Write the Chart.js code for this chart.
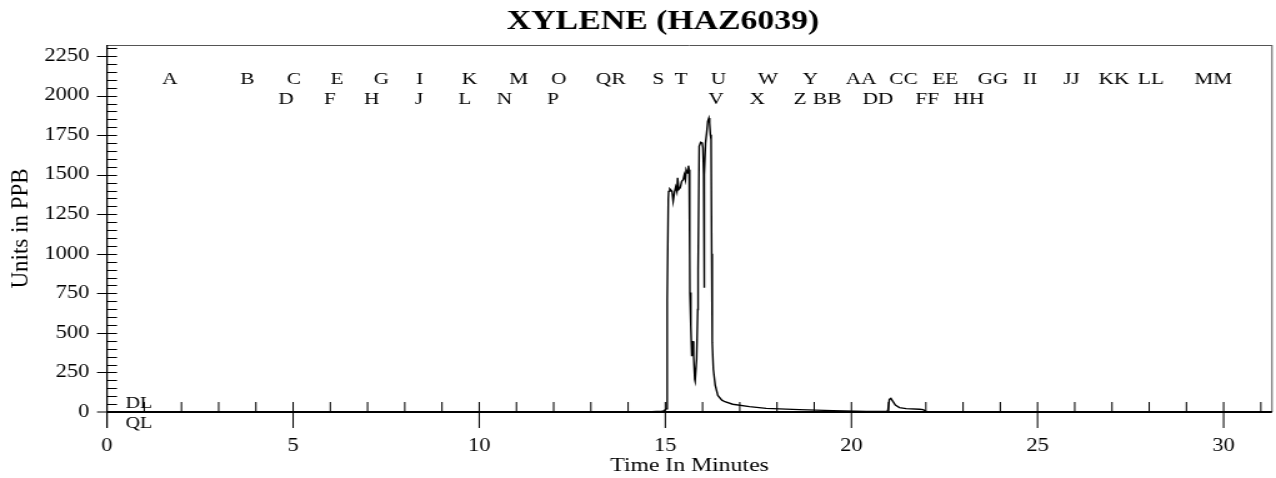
<!DOCTYPE html>
<html>
<head>
<meta charset="utf-8">
<script src="https://cdn.jsdelivr.net/npm/chart.js@4"></script>
<style>
  html, body { margin: 0; padding: 0; background: #fff; }
  #chart { display: block; width: 1276px; height: 478px; }
</style>
</head>
<body>
<!-- canvas drawn narrower and stretched, like the wide-looking original -->
<canvas id="chart" width="1021" height="478" style="width:1276px;height:478px"></canvas>
<script>
// Trace: time (minutes) and response (ppb)
const times = [0, 14.5, 14.9, 14.95, 15.03, 15.05, 15.08, 15.09, 15.12, 15.18, 15.21, 15.25, 15.28, 15.31, 15.33,
  15.36, 15.40, 15.44, 15.48, 15.51, 15.54, 15.56, 15.60, 15.62, 15.64, 15.655, 15.66, 15.685, 15.71, 15.74, 15.76,
  15.79, 15.80, 15.84, 15.87, 15.88, 15.91, 15.95, 15.99, 16.01, 16.03, 16.04, 16.055, 16.08, 16.11, 16.14, 16.17,
  16.19, 16.21, 16.23, 16.245, 16.26, 16.29, 16.34, 16.41, 16.52, 16.6, 16.81, 17.26, 17.71, 18.6, 19.5, 20.4,
  20.95, 20.98, 21.02, 21.06, 21.11, 21.18, 21.29, 21.47, 21.83, 21.93, 21.99, 22.05, 31.3];
const ppb = [0, 0, 5, 6, 20, 700, 1350, 1395, 1410, 1395, 1332, 1395, 1423, 1395, 1480,
  1406, 1417, 1458, 1469, 1500, 1469, 1532, 1511, 1557, 1532, 1000, 755, 543, 353, 448, 353,
  206, 196, 333, 648, 900, 1679, 1705, 1701, 1669, 1500, 785, 1500, 1701, 1764, 1837, 1858,
  1827, 1753, 1722, 1000, 440, 270, 170, 105, 75, 65, 49, 34, 23, 15, 9, 4,
  3, 10, 80, 86, 69, 44, 28, 21, 17, 15, 6, 0, 0];

// Event markers along the top
const eventLabels = ['A','B','C','D','E','F','G','H','I','J','K','L','M','N','O','P','Q','R','S','T','U','V','W','X','Y','Z',
  'AA','BB','CC','DD','EE','FF','GG','HH','II','JJ','KK','LL','MM'];
const eventTimes = [1.69, 3.77, 5.02, 4.81, 6.18, 5.99, 7.37, 7.11, 8.40, 8.38, 9.74, 9.61, 11.06, 10.68, 12.14, 11.98,
  13.34, 13.74, 14.81, 15.42, 16.43, 16.36, 17.76, 17.47, 18.90, 18.62,
  20.26, 19.35, 21.40, 20.71, 22.52, 22.04, 23.80, 23.16, 24.80, 25.91, 27.05, 28.05, 29.72];
const eventRows = [0,0,0,1,0,1,0,1,0,1,0,1,0,1,0,1,0,0,0,0,0,1,0,1,0,1,0,1,0,1,0,1,0,1,0,0,0,0,0];

const xTicks = [0, 5, 10, 15, 20, 25, 30];
const yTicks = [0, 250, 500, 750, 1000, 1250, 1500, 1750, 2000, 2250];

const serif = '"Liberation Serif", "Times New Roman", serif';
const XSCALE = 1276 / 1021; // css stretch of the canvas

const chromPlugin = {
  id: 'chromDecor',
  afterDraw(chart) {
    const { ctx, chartArea: area, scales: { x, y } } = chart;
    const y0 = y.getPixelForValue(0);
    const vx = 1 / XSCALE; // one screen pixel horizontally, in canvas units
    ctx.save();
    ctx.lineCap = 'butt';

    // frame: thin top and right
    ctx.lineWidth = 1;
    ctx.strokeStyle = '#555';
    ctx.beginPath();
    ctx.moveTo(area.left, area.top + 0.5);
    ctx.lineTo(area.right, area.top + 0.5);
    ctx.moveTo(area.right, area.top);
    ctx.lineTo(area.right, y0);
    ctx.stroke();

    // axes
    ctx.strokeStyle = '#000';
    ctx.lineWidth = 1.6 * vx;
    ctx.beginPath();
    ctx.moveTo(area.left, area.top);
    ctx.lineTo(area.left, y0 + 16);
    ctx.stroke();
    ctx.lineWidth = 1.8;
    ctx.beginPath();
    ctx.moveTo(area.left, y0);
    ctx.lineTo(area.right, y0);
    ctx.stroke();

    // x tick marks: every minute up, every 5 minutes also down
    ctx.lineWidth = 1.3 * vx;
    ctx.beginPath();
    for (let t = 1; t <= x.max; t++) {
      const px = x.getPixelForValue(t);
      ctx.moveTo(px, y0 - 10);
      ctx.lineTo(px, t % 5 === 0 ? y0 + 16 : y0);
    }
    ctx.stroke();

    // y tick marks: every 50 inward, every 250 also outward
    ctx.lineWidth = 1;
    ctx.beginPath();
    for (let v = 50; v <= y.max; v += 50) {
      const py = Math.round(y.getPixelForValue(v)) + 0.5;
      ctx.moveTo(v % 250 === 0 ? area.left - 10 * vx : area.left, py);
      ctx.lineTo(area.left + 10 * vx, py);
    }
    ctx.moveTo(area.left - 10 * vx, y0);
    ctx.lineTo(area.left, y0);
    ctx.stroke();

    // title
    ctx.fillStyle = '#000';
    ctx.textAlign = 'center';
    ctx.textBaseline = 'middle';
    ctx.font = 'bold 27px ' + serif;
    ctx.fillText('XYLENE (HAZ6039)', 663 / XSCALE, 22);

    // y axis title, not stretched
    ctx.save();
    ctx.translate(22 / XSCALE, (area.top + y0) / 2);
    ctx.scale(vx, 1);
    ctx.rotate(-Math.PI / 2);
    ctx.font = '23px ' + serif;
    ctx.fillText('Units in PPB', 0, 0);
    ctx.restore();

    // event letters
    ctx.font = '17px ' + serif;
    eventLabels.forEach((lab, i) => {
      const px = x.getPixelForValue(eventTimes[i]);
      ctx.fillText(lab, px, eventRows[i] ? 100 : 80);
    });

    // DL / QL
    ctx.textAlign = 'left';
    ctx.font = '16px ' + serif;
    const lx = x.getPixelForValue(0.5);
    ctx.fillText('DL', lx, y0 - 8);
    ctx.fillText('QL', lx, y0 + 12);
    ctx.restore();
  }
};

new Chart(document.getElementById('chart'), {
  type: 'line',
  data: {
    datasets: [{
      label: 'Xylene',
      data: times.map((t, i) => ({ x: t, y: ppb[i] })),
      borderColor: '#000',
      borderWidth: 1.4,
      pointRadius: 0,
      tension: 0,
      fill: false
    }]
  },
  options: {
    responsive: false,
    devicePixelRatio: 1,
    animation: false,
    layout: { padding: { top: 45, right: 1021 - 1272 / XSCALE, left: 0, bottom: 0 } },
    plugins: {
      legend: { display: false },
      title: { display: false },
      tooltip: { enabled: false }
    },
    scales: {
      x: {
        type: 'linear',
        min: 0,
        max: 31.3,
        afterBuildTicks: (scale) => { scale.ticks = xTicks.map(v => ({ value: v })); },
        afterFit: (scale) => { scale.height = 478 - 412; },
        grid: { display: false, drawTicks: false },
        border: { display: false },
        ticks: { color: '#000', padding: 23, maxRotation: 0, font: { family: serif, size: 18 } },
        title: {
          display: true,
          text: 'Time In Minutes',
          color: '#000',
          padding: { top: 0, bottom: 1 },
          font: { family: serif, size: 19 }
        }
      },
      y: {
        min: 0,
        max: 2320,
        afterBuildTicks: (scale) => { scale.ticks = yTicks.map(v => ({ value: v })); },
        afterFit: (scale) => { scale.width = 107 / XSCALE; },
        grid: { display: false, drawTicks: false },
        border: { display: false },
        ticks: {
          color: '#000',
          padding: 14,
          font: { family: serif, size: 18 },
          callback: (v) => String(v)
        }
      }
    }
  },
  plugins: [chromPlugin]
});
</script>
</body>
</html>
